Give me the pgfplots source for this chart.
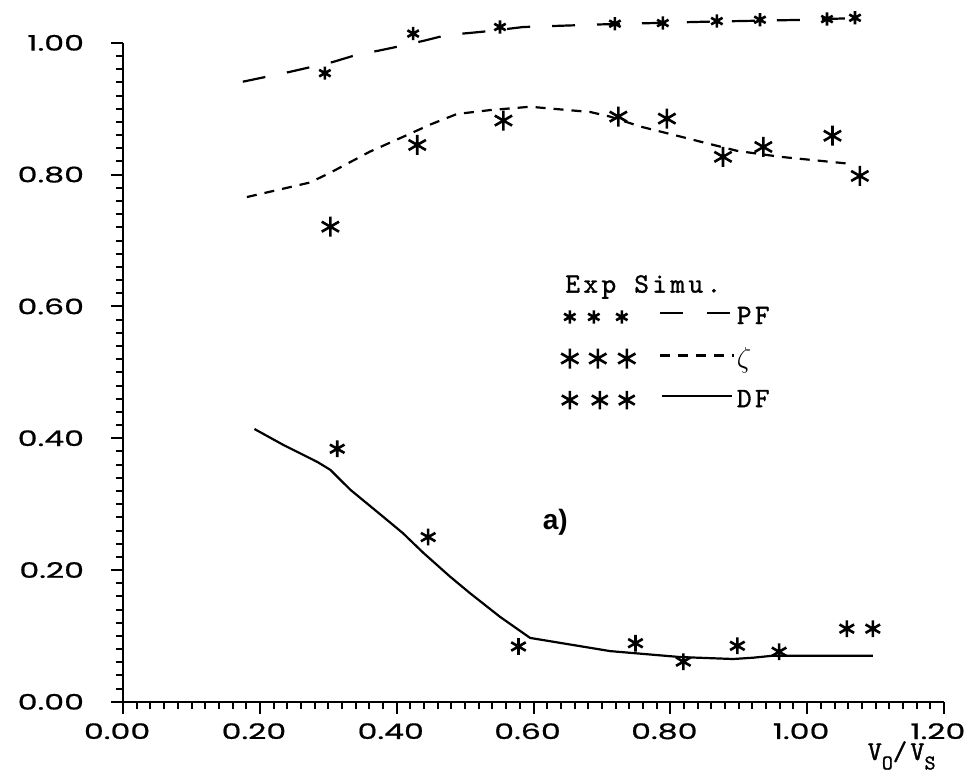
\documentclass[border=0pt]{standalone}
\usepackage{pgfplots}
\pgfplotsset{compat=1.18}
\usepackage{fontspec}
\setmainfont{Poppins}
\newfontfamily\tickfont[FakeStretch=1.48, FakeBold=0.8]{Poppins}
\newfontfamily\typewf{lmmono10-regular}[Extension=.otf, LetterSpace=12, FakeBold=1.2]
\newfontfamily\typews{lmmono10-regular}[Extension=.otf, LetterSpace=3, FakeBold=1.2]
\newcommand\typew[1]{\typewf\fontsize{#1}{#1}\selectfont}
\newfontfamily\boldsans{Liberation Sans}

\pgfplotstableread{
x y
0.295 0.954
0.424 1.014
0.551 1.024
0.719 1.029
0.789 1.030
0.868 1.033
0.931 1.035
1.029 1.036
1.070 1.038
}\pfexp
\pgfplotstableread{
x y
0.175 0.941
0.244 0.956
0.307 0.971
0.342 0.982
0.373 0.988
0.405 0.995
0.439 1.003
0.474 1.012
0.507 1.015
0.537 1.018
0.585 1.024
0.700 1.028
0.850 1.032
1.000 1.035
1.080 1.038
}\pfsim
\pgfplotstableread{
x y
0.303 0.721
0.430 0.845
0.556 0.882
0.724 0.888
0.795 0.885
0.877 0.827
0.936 0.842
1.037 0.859
1.077 0.798
}\zetaexp
\pgfplotstableread{
x y
0.181 0.766
0.273 0.788
0.303 0.803
0.361 0.835
0.415 0.860
0.449 0.876
0.488 0.892
0.537 0.898
0.595 0.903
0.683 0.895
0.712 0.888
0.756 0.873
0.810 0.859
0.844 0.850
0.898 0.836
0.961 0.827
1.067 0.816
}\zetasim
\pgfplotstableread{
x y
0.313 0.384
0.446 0.250
0.578 0.084
0.749 0.089
0.819 0.061
0.898 0.085
0.959 0.076
1.058 0.111
1.096 0.111
}\dfexp
\pgfplotstableread{
x y
0.192 0.414
0.234 0.390
0.284 0.364
0.303 0.352
0.332 0.322
0.380 0.281
0.409 0.256
0.439 0.226
0.478 0.190
0.507 0.165
0.551 0.129
0.595 0.097
0.712 0.077
0.814 0.068
0.892 0.065
0.921 0.067
0.950 0.070
1.096 0.070
}\dfsim

\begin{document}
\begin{tikzpicture}
\begin{axis}[
  scale only axis,
  width=410.4pt, height=329.5pt,
  xmin=0, xmax=1.2, ymin=0, ymax=1.0,
  clip=false,
  axis lines=left,
  axis line style={-, line width=1.3pt},
  xtick={0,0.2,0.4,0.6,0.8,1.0,1.2},
  ytick={0,0.2,0.4,0.6,0.8,1.0},
  minor tick num=9,
  tick align=outside,
  major tick length=6pt,
  minor tick length=3.8pt,
  every tick/.style={black, line width=1pt},
  tick label style={font=\tickfont\fontsize{10.7}{12}\selectfont},
  xticklabel style={xshift=-3pt, yshift=-3.5pt, inner sep=1pt},
  yticklabel style={xshift=-10pt},
  /pgf/number format/.cd, fixed, fixed zerofill, precision=2, assume math mode=true,
  /pgfplots/.cd,
  xlabel={\typew{13.5}V\raisebox{-0.35em}{\typews\fontsize{10.5}{11}\selectfont O}/V\raisebox{-0.35em}{\typews\fontsize{10.5}{11}\selectfont S}},
  xlabel style={at={(axis description cs:1,0)}, anchor=north east, xshift=-4pt, yshift=-19.5pt, inner sep=0pt},
  legend style={at={(axis cs:0.631,0.609)}, anchor=north west, draw=none, fill=none,
    font=\typew{14}, row sep=8pt,
    nodes={inner sep=1pt}},
  legend cell align=left,
]
% bounding frame of the reference picture
\path (axis cs:-0.180,1.065) rectangle (axis cs:1.241,-0.112);

\addplot[black, line width=1.1pt, dash pattern=on 11.5pt off 11pt, forget plot] table {\pfsim};
\addplot[black, only marks, mark=asterisk, mark size=3.3pt, mark options={line width=1.3pt, solid}, forget plot] table {\pfexp};
\addplot[black, line width=1.1pt, dash pattern=on 5pt off 4pt, forget plot] table {\zetasim};
\addplot[black, only marks, mark=asterisk, mark size=5pt, mark options={line width=1.3pt, solid}, forget plot] table {\zetaexp};
\addplot[black, line width=1.1pt, forget plot] table {\dfsim};
\addplot[black, only marks, mark=asterisk, mark size=4.2pt, mark options={line width=1.3pt, solid}, forget plot] table {\dfexp};

\addlegendimage{legend image code/.code={
  \draw[black, line width=1.3pt] plot[only marks, mark=asterisk, mark size=3.3pt] coordinates {(0pt,0pt) (12pt,0pt) (26pt,0pt)};
  \draw[black, line width=1.1pt, dash pattern=on 11.5pt off 12pt] (45pt,2pt) -- (80pt,2pt);
}}
\addlegendentry{PF}
\addlegendimage{legend image code/.code={
  \draw[black, line width=1.3pt] plot[only marks, mark=asterisk, mark size=5pt] coordinates {(0pt,0pt) (14pt,0pt) (28.5pt,0pt)};
  \draw[black, line width=1.1pt, dash pattern=on 5pt off 4pt] (45pt,1.5pt) -- (82pt,1.5pt);
}}
\addlegendentry{$\zeta$}
\addlegendimage{legend image code/.code={
  \draw[black, line width=1.3pt] plot[only marks, mark=asterisk, mark size=4.6pt] coordinates {(0pt,0pt) (15pt,0pt) (28.5pt,0pt)};
  \draw[black, line width=1.1pt] (46pt,2pt) -- (81pt,2pt);
}}
\addlegendentry{DF}

\node[anchor=base west, inner sep=0pt, font=\typew{14}] at (axis cs:0.646,0.621) {Exp Simu.};
\node[anchor=base west, inner sep=0pt, font=\boldsans\bfseries\fontsize{14}{14}\selectfont] at (axis cs:0.613,0.261) {a)};
\end{axis}
\end{tikzpicture}
\end{document}
